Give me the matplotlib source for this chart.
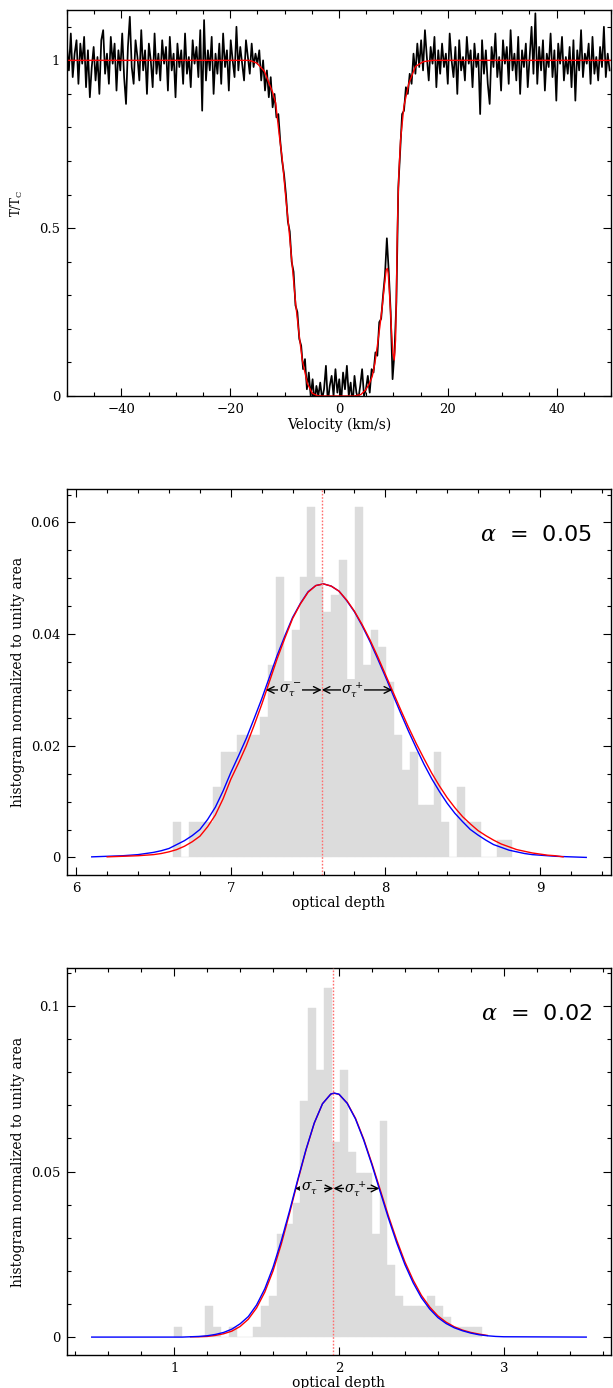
import numpy as np
import matplotlib
matplotlib.use('Agg')
import matplotlib.pyplot as plt
from matplotlib.ticker import MultipleLocator, FuncFormatter

plt.rcParams['font.family'] = ['DejaVu Serif']
plt.rcParams['mathtext.fontset'] = 'dejavuserif'

# ---- panel 1: spectrum (T/Tc vs velocity), channel grid
vel_start = -50.0
vel_step = 0.35
spec_t = [
    1.04, 0.97, 1.08, 0.95, 1.02, 1.06, 0.93, 1.05, 0.99, 1.07,
    0.92, 1.03, 0.89, 0.98, 1.04, 0.94, 1.01, 0.90, 1.06, 1.09,
    0.96, 1.02, 0.93, 1.07, 0.99, 1.05, 0.91, 1.03, 0.97, 1.08,
    0.95, 0.87, 1.04, 1.13, 0.98, 0.93, 1.06, 1.01, 0.94, 1.09,
    0.97, 1.03, 0.90, 1.05, 1.00, 0.92, 1.08, 0.96, 1.02, 0.94,
    1.06, 0.99, 1.04, 0.91, 1.07, 0.97, 1.02, 0.89, 1.05, 0.98,
    1.03, 0.93, 1.08, 0.96, 1.01, 0.92, 1.06, 0.99, 1.04, 0.95,
    1.09, 0.85, 1.12, 0.94, 1.03, 0.97, 1.07, 0.90, 1.02, 0.96,
    1.05, 0.93, 1.08, 0.98, 1.03, 0.91, 1.06, 1.00, 0.95, 1.10,
    0.97, 1.04, 0.99, 0.94, 1.06, 1.01, 0.96, 1.05, 0.98, 1.02, 0.99,
    # descending wing
    1.03, 0.94, 1.00, 0.91, 0.97, 0.89, 0.95, 0.86, 0.90, 0.83,
    0.84, 0.76, 0.70, 0.66, 0.60, 0.52, 0.49, 0.40, 0.37, 0.27,
    0.25, 0.17, 0.15, 0.08, 0.11, 0.02, 0.07, 0.00,
    # saturated core
    0.05, -0.02, 0.03, 0.00, 0.04, -0.01, 0.02, 0.09, -0.02, 0.03,
    0.06, 0.00, 0.08, 0.01, 0.05, -0.02, 0.07, 0.02, 0.09, 0.00,
    0.04, -0.03, 0.06, 0.01, -0.01, 0.03, 0.08, 0.00, 0.02,
    # rising wing
    0.06, 0.01, 0.08, 0.07, 0.13, 0.12, 0.22, 0.23, 0.30, 0.36,
    0.47, 0.37, 0.25, 0.05, 0.13, 0.28, 0.62, 0.73, 0.84, 0.85,
    0.92, 0.90, 0.96, 0.93, 1.02, 0.96, 1.05, 0.98,
    # right continuum
    1.06, 0.97, 1.09, 1.01, 0.94, 1.04, 0.99, 1.07, 0.92, 1.03,
    0.96, 1.05, 0.98, 1.02, 0.93, 1.08, 1.00, 0.95, 1.04, 0.90,
    1.06, 0.97, 1.01, 0.94, 1.07, 0.99, 1.03, 0.92, 1.05, 0.98,
    1.02, 0.84, 1.06, 0.96, 1.03, 0.93, 0.87, 1.04, 0.98, 1.08,
    0.95, 1.01, 0.91, 1.06, 0.99, 1.04, 0.93, 1.09, 0.97, 1.02,
    0.94, 1.07, 0.90, 1.03, 0.98, 1.05, 0.92, 1.01, 1.10, 0.96,
    1.14, 0.93, 1.04, 0.97, 1.06, 0.91, 1.02, 0.98, 1.08, 0.95,
    1.03, 0.88, 1.05, 0.99, 1.07, 0.94, 1.01, 0.96, 1.04, 0.92,
    1.06, 0.88, 1.03, 0.97, 1.09, 0.95, 1.02, 0.99, 1.05, 0.93,
    1.07, 0.96, 1.01, 0.94, 1.04, 0.98, 1.10, 0.95, 1.02, 0.97,
]

# fitted model (red)
model_v = [-50, -16.5, -15.1, -13.7, -12.87, -12.2, -11.64, -11.0, -10.42, -9.8,
           -9.19, -8.58, -7.97, -7.36, -6.75, -5.83, -4.91, -4.0, -3.07, 2.8,
           4.0, 4.89, 5.5, 6.11, 6.6, 7.03, 7.5, 7.95, 8.35, 8.68,
           8.9, 9.05, 9.25, 9.48, 9.7, 9.91, 10.16, 10.4, 10.55, 10.7,
           10.85, 11.01, 11.32, 11.93, 12.85, 14.07, 15.5, 17.2, 50]
model_t = [1.0, 1.0, 0.992, 0.967, 0.932, 0.905, 0.873, 0.78, 0.704, 0.594,
           0.495, 0.386, 0.276, 0.187, 0.107, 0.038, 0.008, 0.001, 0.0, 0.0,
           0.004, 0.018, 0.034, 0.058, 0.098, 0.147, 0.205, 0.266, 0.33, 0.376,
           0.38, 0.366, 0.315, 0.247, 0.18, 0.127, 0.107, 0.167, 0.30, 0.465,
           0.58, 0.664, 0.763, 0.863, 0.932, 0.982, 0.996, 1.0, 1.0]

# ---- panel 2: alpha = 0.05
h1_start = 6.629
h1_width = 0.051
h1_counts = [2, 0, 2, 2, 2, 4, 6, 6, 7, 7, 7, 8, 11, 16, 10, 13, 16, 20, 16, 14,
             15, 17, 10, 20, 11, 13, 12, 10, 7, 5, 6, 3, 3, 6, 2, 0, 4, 2, 2, 0,
             0, 1, 1]
# curves sampled every 0.05 in optical depth
h1_blue_range = (6.10, 9.30)
h1_blue_y = [0.0001, 0.00015, 0.0002, 0.00025, 0.0003, 0.0004, 0.0005, 0.0007, 0.0009, 0.0012,
             0.0016, 0.0023, 0.0030, 0.0039, 0.0050, 0.0068, 0.0090, 0.0119, 0.0152, 0.0182,
             0.0213, 0.0248, 0.0284, 0.0323, 0.0362, 0.0397, 0.0430, 0.0455, 0.0476, 0.0487,
             0.0490, 0.0486, 0.0477, 0.0460, 0.0440, 0.0415, 0.0387, 0.0356, 0.0324, 0.0291,
             0.0258, 0.0226, 0.0196, 0.0167, 0.0141, 0.0118, 0.0097, 0.0079, 0.0064, 0.0050,
             0.0040, 0.0031, 0.0023, 0.0018, 0.0013, 0.0010, 0.0007, 0.0005, 0.0004, 0.0003,
             0.0002, 0.00015, 0.0001, 0.00005, 0.0]
h1_red_range = (6.20, 9.15)
h1_red_y = [0.0001, 0.00015, 0.0002, 0.00025, 0.0003, 0.0004, 0.0005, 0.0007, 0.0010, 0.0014,
            0.0020, 0.0028, 0.0038, 0.0055, 0.0076, 0.0105, 0.0140, 0.0169, 0.0200, 0.0236,
            0.0274, 0.0315, 0.0356, 0.0393, 0.0428, 0.0454, 0.0475, 0.0487, 0.0490, 0.0486,
            0.0477, 0.0461, 0.0441, 0.0417, 0.0390, 0.0360, 0.0328, 0.0296, 0.0264, 0.0233,
            0.0204, 0.0177, 0.0151, 0.0128, 0.0107, 0.0089, 0.0073, 0.0060, 0.0048, 0.0039,
            0.0031, 0.0024, 0.0019, 0.0014, 0.0011, 0.0008, 0.0006, 0.0004, 0.0003, 0.0001]
h1_peak = 7.588
h1_sig = (7.227, 8.045, 0.030)
h1_lab = (7.383, 7.787)

# ---- panel 3: alpha = 0.02
h2_start = 0.998
h2_width = 0.048
h2_counts = [1, 0, 0, 0, 3, 1, 0, 1, 0, 0, 1, 3, 4, 10, 11, 13, 23, 32, 26, 34,
             19, 26, 18, 16, 16, 10, 21, 7, 4, 3, 3, 3, 4, 3, 2, 1, 1, 1, 1]
h2_blue_x = [0.5, 1.0, 1.05, 1.1, 1.15, 1.2, 1.25, 1.3, 1.35, 1.4, 1.45, 1.5, 1.55,
             1.6, 1.65, 1.7, 1.75, 1.8, 1.85, 1.9, 1.95, 1.97, 2.0, 2.05, 2.1, 2.15,
             2.2, 2.25, 2.3, 2.35, 2.4, 2.45, 2.5, 2.55, 2.6, 2.65, 2.7, 2.75, 2.8,
             2.85, 2.9, 2.95, 3.0, 3.5]
h2_blue_y = [0.0, 0.0, 0.0, 0.0001, 0.0002, 0.0004, 0.0008, 0.0014, 0.0024, 0.0040,
             0.0062, 0.0097, 0.0146, 0.0211, 0.0291, 0.0381, 0.0476, 0.0567, 0.0647,
             0.0705, 0.0734, 0.0737, 0.0734, 0.0706, 0.0659, 0.0595, 0.0520, 0.0439,
             0.0359, 0.0285, 0.0219, 0.0164, 0.0119, 0.0085, 0.0059, 0.0041, 0.0028,
             0.0019, 0.0012, 0.0007, 0.0004, 0.0002, 0.0001, 0.0]
h2_red_x = [1.1, 1.15, 1.2, 1.25, 1.3, 1.35, 1.4, 1.45, 1.5, 1.55, 1.6, 1.65, 1.7,
            1.75, 1.8, 1.85, 1.9, 1.95, 1.97, 2.0, 2.05, 2.1, 2.15, 2.2, 2.25, 2.3,
            2.35, 2.4, 2.45, 2.5, 2.55, 2.6, 2.65, 2.7, 2.75, 2.8, 2.85, 2.9]
h2_red_y = [0.0001, 0.0001, 0.0002, 0.0005, 0.0010, 0.0018, 0.0032, 0.0054, 0.0088,
            0.0136, 0.0200, 0.0281, 0.0374, 0.0472, 0.0565, 0.0646, 0.0705, 0.0734,
            0.0737, 0.0733, 0.0707, 0.0661, 0.0598, 0.0524, 0.0445, 0.0366, 0.0293,
            0.0227, 0.0172, 0.0126, 0.0091, 0.0064, 0.0045, 0.0031, 0.0021, 0.0014,
            0.0009, 0.0005]
h2_peak = 1.966
h2_sig = (1.734, 2.245, 0.0449)
h2_lab = (1.836, 2.100)

HIST_GREY = '#dcdcdc'


def fmt(v, p):
    return ('%g' % v).replace('-', '\u2212')


def grid(rng, n):
    return np.linspace(rng[0], rng[1], n)


def style_axes(ax, xmaj, xmin, ymaj, ymin):
    ax.xaxis.set_major_locator(MultipleLocator(xmaj))
    ax.xaxis.set_minor_locator(MultipleLocator(xmin))
    ax.yaxis.set_major_locator(MultipleLocator(ymaj))
    ax.yaxis.set_minor_locator(MultipleLocator(ymin))
    ax.xaxis.set_major_formatter(FuncFormatter(fmt))
    ax.yaxis.set_major_formatter(FuncFormatter(fmt))
    ax.tick_params(which='both', direction='in', top=True, right=True, labelsize=9.5)
    ax.tick_params(which='major', length=6, width=0.8, pad=5)
    ax.tick_params(which='minor', length=3, width=0.8)
    for s in ax.spines.values():
        s.set_linewidth(1.0)


def sigma_arrows(ax, peak, sig, lab):
    x0, x1, y = sig
    for a, b, tx, txt in [(x0, peak, lab[0], r'$\sigma_\tau^{\,-}$'),
                          (peak, x1, lab[1], r'$\sigma_\tau^{\,+}$')]:
        ax.annotate('', xy=(a, y), xytext=(b, y),
                    arrowprops=dict(arrowstyle='<->', color='k', lw=1.0,
                                    shrinkA=0, shrinkB=0, mutation_scale=12))
        ax.text(tx, y, txt, ha='center', va='center', fontsize=10,
                bbox=dict(facecolor=HIST_GREY, edgecolor='none', pad=0.3))


def hist_panel(ax, start, width, counts, bx, by, rx, ry, peak, sig, lab,
               alpha_txt, blue_on_top):
    counts = np.array(counts, dtype=float)
    heights = counts / counts.sum()
    lefts = start + width * np.arange(len(counts))
    ax.bar(lefts, heights, width=width, align='edge', color=HIST_GREY,
           edgecolor=HIST_GREY, linewidth=0.3, zorder=1)
    zb, zr = (3, 2) if blue_on_top else (2, 3)
    ax.plot(bx, by, color='#0000ff', lw=1.0, zorder=zb)
    ax.plot(rx, ry, color='#ff0000', lw=1.0, zorder=zr)
    ax.axvline(peak, color='#ff6f6f', lw=1.0, ls=(0, (1.2, 1.2)), zorder=4)
    sigma_arrows(ax, peak, sig, lab)
    ax.text(0.965, 0.882, alpha_txt, transform=ax.transAxes, ha='right',
            va='center', fontsize=16, family='DejaVu Sans')
    ax.set_xlabel('optical depth', fontsize=10, labelpad=1)
    ax.set_ylabel('histogram normalized to unity area', fontsize=10, labelpad=4)


fig = plt.figure(figsize=(6.13, 13.88), dpi=100)

# top: spectrum
ax1 = fig.add_axes([0.1093, 0.7147, 0.8874, 0.2781])
vel = vel_start + vel_step * np.arange(len(spec_t))
ax1.plot(vel, spec_t, color='k', lw=1.25)
ax1.plot(model_v, model_t, color='#ff0000', lw=1.0)
ax1.set_xlim(-50, 50)
ax1.set_ylim(0, 1.15)
style_axes(ax1, 20, 5, 0.5, 0.1)
ax1.set_xlabel('Velocity (km/s)', fontsize=10, labelpad=1)
ax1.set_ylabel(r'T/T$_{\rm C}$', fontsize=8.5, labelpad=10)

# middle: alpha = 0.05
ax2 = fig.add_axes([0.1093, 0.3696, 0.8874, 0.2781])
hist_panel(ax2, h1_start, h1_width, h1_counts,
           grid(h1_blue_range, len(h1_blue_y)), h1_blue_y,
           grid(h1_red_range, len(h1_red_y)), h1_red_y,
           h1_peak, h1_sig, h1_lab, r'$\alpha$  =  0.05', False)
ax2.set_xlim(5.94, 9.46)
ax2.set_ylim(-0.00315, 0.0660)
style_axes(ax2, 1, 0.2, 0.02, 0.005)

# bottom: alpha = 0.02
ax3 = fig.add_axes([0.1093, 0.0238, 0.8874, 0.2788])
hist_panel(ax3, h2_start, h2_width, h2_counts, h2_blue_x, h2_blue_y,
           h2_red_x, h2_red_y, h2_peak, h2_sig, h2_lab,
           r'$\alpha$  =  0.02', True)
ax3.set_xlim(0.35, 3.65)
ax3.set_ylim(-0.0054, 0.1115)
style_axes(ax3, 1, 0.2, 0.05, 0.01)

fig.savefig('out.png', dpi=100)
